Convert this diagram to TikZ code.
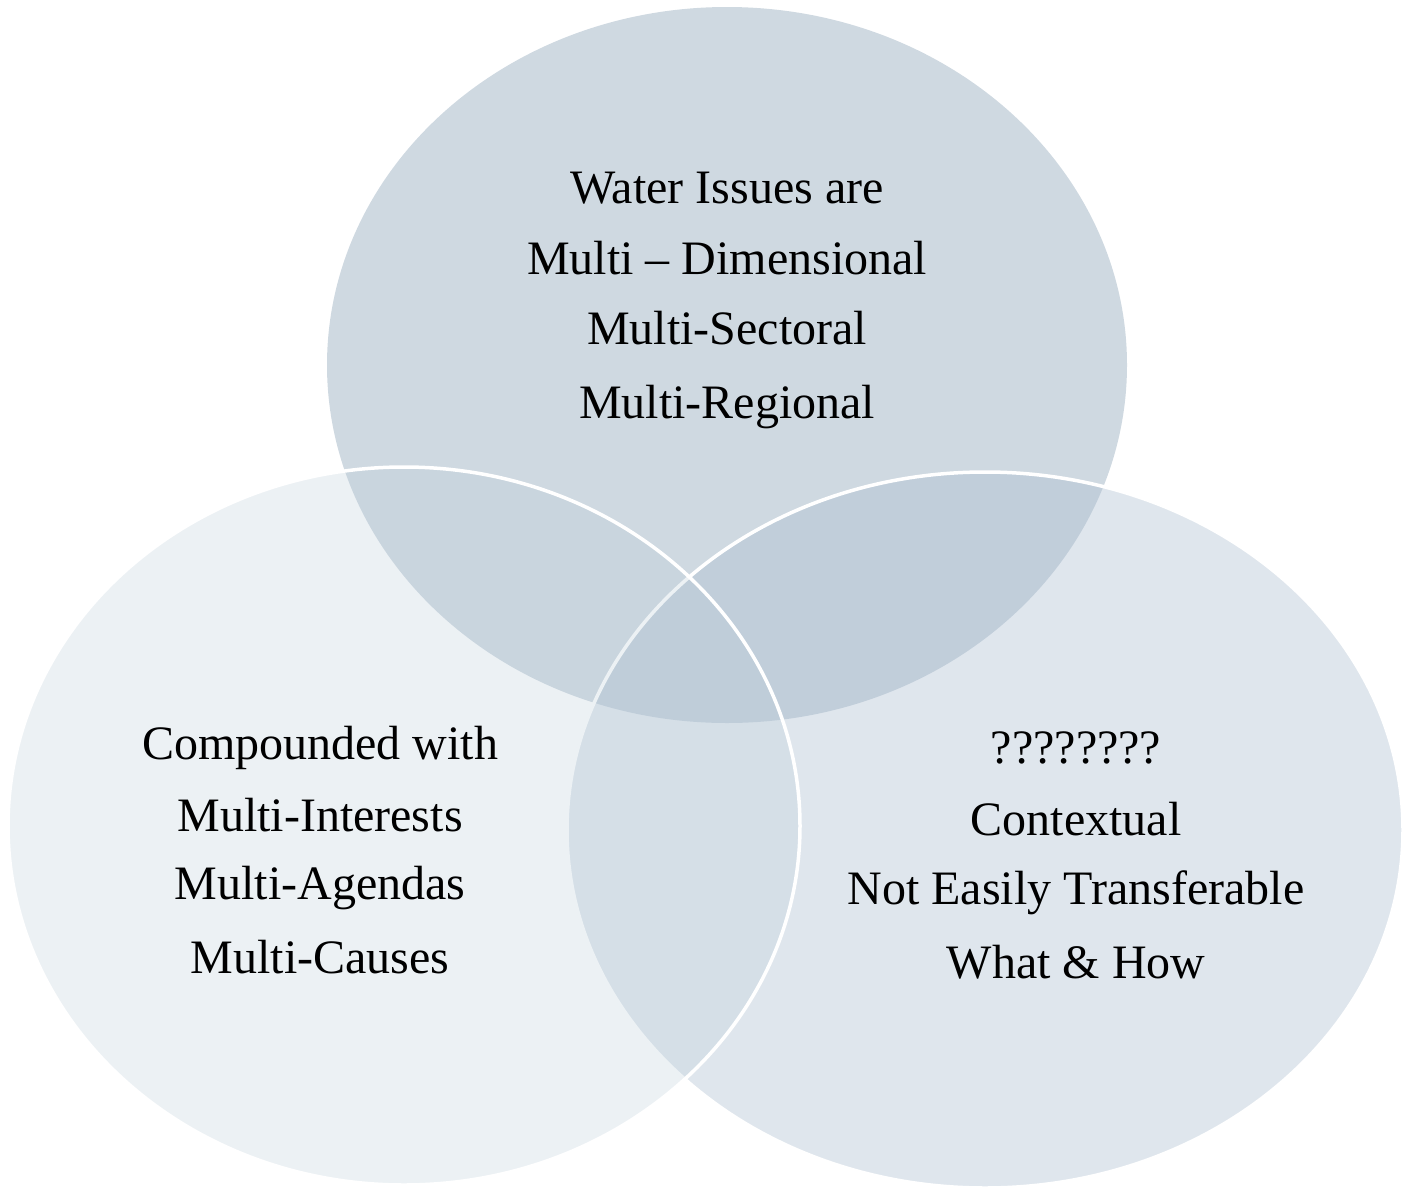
\documentclass[tikz,border=0pt]{standalone}
\usepackage{fontspec}
\setmainfont{Liberation Serif}
\definecolor{topc}{RGB}{207,217,225}
\definecolor{rightc}{RGB}{171,189,208}
\definecolor{leftc}{RGB}{187,205,216}
\tikzset{
  lbl/.style={anchor=base, inner sep=0pt, font=\fontsize{48}{72}\selectfont, text=black},
  rim/.style={draw=white, line width=3.5pt}
}
\begin{document}
\begin{tikzpicture}[x=1pt,y=-1pt]
\useasboundingbox (0,0) rectangle (1403,1189);
% top circle
\path[fill=topc] (727,365) ellipse [x radius=400, y radius=358];
% right circle
\path[fill=rightc, fill opacity=0.38, rim] (985,830) ellipse [x radius=418, y radius=358];
% left circle
\path[fill=leftc, fill opacity=0.28, rim] (404,826) ellipse [x radius=396, y radius=359];
% texts
\node[lbl] (t1) at (727,203) {Water Issues are};
\node[lbl] (t2) at (727,274) {Multi – Dimensional};
\node[lbl] (t3) at (727,344) {Multi-Sectoral};
\node[lbl] (t4) at (727,418) {Multi-Regional};
\node[lbl] (l1) at (320,759) {Compounded with};
\node[lbl] (l2) at (320,831) {Multi-Interests};
\node[lbl] (l3) at (320,899) {Multi-Agendas};
\node[lbl] (l4) at (320,973) {Multi-Causes};
\node[lbl] (r1) at (1076,763) {????????};
\node[lbl] (r2) at (1076,835) {Contextual};
\node[lbl] (r3) at (1076,904) {Not Easily Transferable};
\node[lbl] (r4) at (1076,978) {What \& How};
\end{tikzpicture}
\end{document}
